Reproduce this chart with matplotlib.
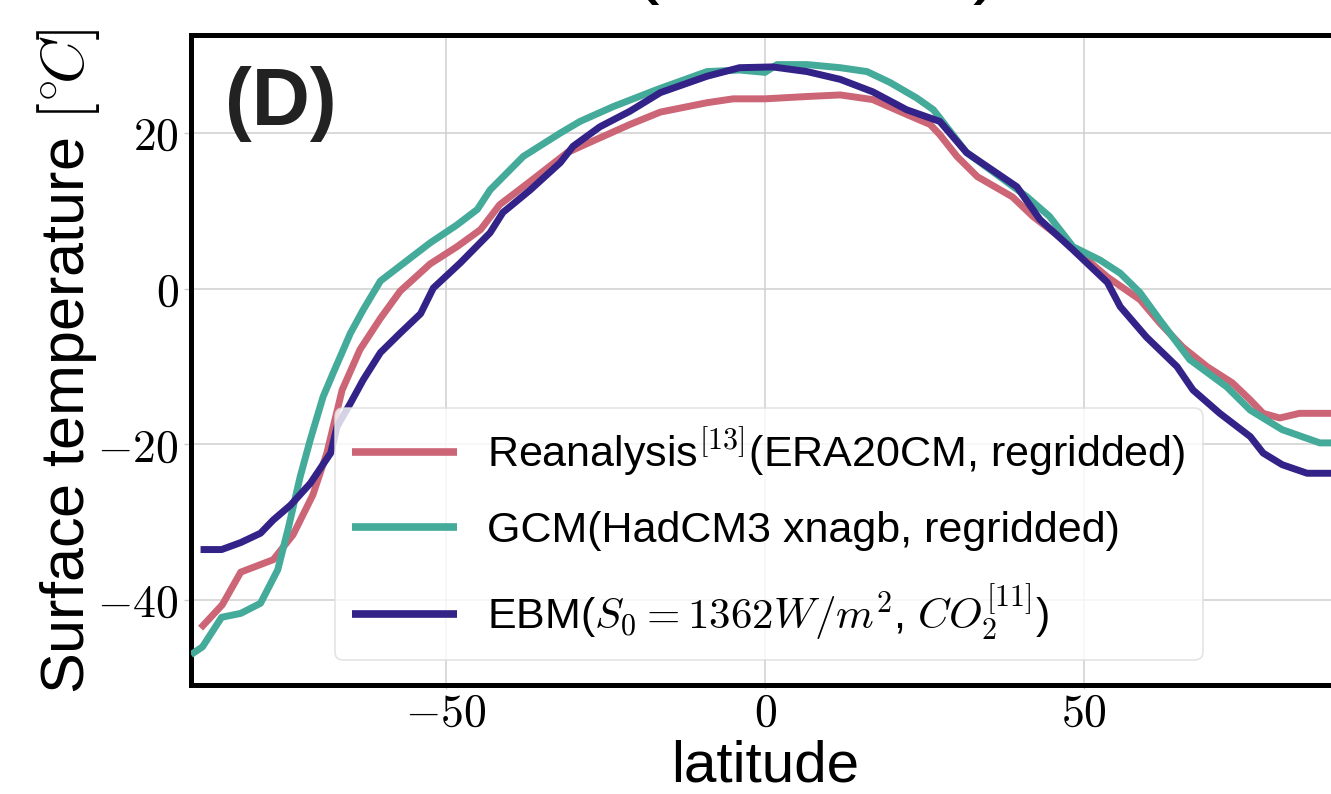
import matplotlib
matplotlib.use("Agg")
import matplotlib.pyplot as plt
from matplotlib.ticker import FixedLocator, FuncFormatter

plt.rcParams['font.family'] = ['Liberation Sans', 'DejaVu Sans']
plt.rcParams['mathtext.fontset'] = 'cm'

# ---------------- data ----------------
rea_lat = [-88.5, -85.1, -82.2, -77.1, -74.0, -70.9, -68.7, -66.3, -63.5, -60.3,
           -57.2, -52.5, -48.3, -44.6, -41.6, -36.8, -31.0, -26.4, -21.2, -16.4,
           -9.1, -5.0, 0.0, 6.6, 11.8, 16.9, 22.2, 25.9, 27.4, 30.1, 33.3, 38.8,
           42.0, 47.4, 53.7, 58.8, 61.9, 65.5, 69.3, 73.3, 76.1, 78.1, 80.7,
           83.8, 88.75]
rea_T = [-43.6, -40.6, -36.4, -34.8, -31.6, -26.5, -21.1, -13.0, -7.8, -3.8,
         -0.3, 3.2, 5.4, 7.6, 10.8, 13.8, 17.5, 19.2, 21.1, 22.7,
         23.9, 24.4, 24.4, 24.7, 24.9, 24.3, 22.4, 21.1, 19.8, 17.0, 14.4, 11.8,
         9.3, 5.9, 1.5, -1.4, -4.4, -7.5, -10.0, -12.1, -14.3, -16.0, -16.6,
         -16.0, -16.0]

gcm_lat = [-90.0, -88.2, -85.2, -82.2, -79.1, -76.4, -74.7, -72.9, -71.3, -69.3,
           -67.7, -65.0, -63.0, -60.3, -56.8, -52.5, -48.3, -45.1, -43.1, -37.9,
           -32.1, -29.0, -23.8, -16.9, -9.1, -4.0, 0.0, 1.9, 6.6, 11.8, 16.0,
           19.6, 23.8, 26.4, 31.6, 36.8, 41.1, 44.6, 48.3, 52.5, 55.7, 58.8,
           61.9, 66.6, 72.4, 76.1, 81.1, 87.0, 88.75]
gcm_T = [-47.0, -46.0, -42.2, -41.7, -40.4, -36.1, -30.6, -24.2, -19.4, -13.9,
         -10.8, -5.7, -2.7, 1.0, 3.2, 5.9, 8.2, 10.2, 12.7, 17.0,
         20.0, 21.5, 23.4, 25.6, 27.9, 28.1, 27.8, 28.8, 28.8, 28.4, 27.9,
         26.5, 24.5, 23.0, 17.5, 14.4, 11.8, 9.3, 5.4, 3.7, 2.0, -0.5,
         -4.0, -9.1, -12.6, -15.6, -18.1, -19.8, -19.8]

ebm_lat = [-88.5, -85.2, -82.2, -79.1, -77.1, -74.4, -71.3, -68.1, -67.1, -65.0,
           -63.0, -60.3, -57.2, -54.0, -52.0, -47.8, -43.1, -41.1, -36.8, -32.1,
           -30.1, -25.9, -21.2, -16.4, -9.1, -4.0, 1.2, 6.6, 11.8, 16.9, 22.2,
           27.4, 31.6, 39.5, 43.1, 48.3, 53.7, 55.7, 59.8, 64.6, 67.1, 71.3,
           76.1, 78.1, 81.1, 85.0, 88.75]
ebm_T = [-33.5, -33.5, -32.6, -31.4, -29.7, -27.8, -25.0, -21.1, -17.7, -14.7,
         -11.7, -8.2, -5.7, -3.2, 0.1, 3.3, 7.2, 9.8, 12.7, 16.2,
         18.3, 20.8, 22.8, 25.2, 27.3, 28.4, 28.5, 27.9, 26.9, 25.3, 23.0,
         21.5, 17.5, 13.1, 8.9, 5.0, 0.8, -2.3, -6.2, -10.0, -13.0, -16.0,
         -19.0, -21.1, -22.6, -23.7, -23.7]

labels = [r'Reanalysis$^{[13]}$(ERA20CM, regridded)',
          r'GCM(HadCM3 xnagb, regridded)',
          r'EBM($S_0=1362W/m^2$, $CO_2^{[11]}$)']
colors = ['#CC6677', '#44AA99', '#332288']
xticks = [-50, 0, 50]
yticks = [-40, -20, 0, 20]

# ---------------- figure ----------------
W, H = 1331, 794
fig = plt.figure(figsize=(W / 100, H / 100), dpi=100)
ax = fig.add_axes([191 / W, 1 - 685 / H, 1148 / W, 650 / H])

ax.grid(True, color='#cfcfcf', lw=1.1, zorder=0)
ax.set_axisbelow(True)

for lat, T, c, lab in zip([rea_lat, gcm_lat, ebm_lat], [rea_T, gcm_T, ebm_T],
                          colors, labels):
    ax.plot(lat, T, color=c, lw=5, label=lab, solid_capstyle='butt', zorder=3)

ax.set_xlim(-90, 90)
ax.set_ylim(-50.9, 32.6)
ax.xaxis.set_major_locator(FixedLocator(xticks))
ax.yaxis.set_major_locator(FixedLocator(yticks))
fmt = FuncFormatter(lambda v, p: r'$%g$' % v)
ax.xaxis.set_major_formatter(fmt)
ax.yaxis.set_major_formatter(fmt)
ax.tick_params(axis='y', labelsize=33, length=5, width=1, color='#cccccc',
               pad=4)
ax.tick_params(axis='x', labelsize=33, length=3, width=1, color='#cccccc',
               pad=2)

for s in ax.spines.values():
    s.set_color('black')
    s.set_linewidth(3.6)

leg = ax.legend(loc='lower left', bbox_to_anchor=(0.125, 0.038),
                borderaxespad=0, fontsize=31, handlelength=2.45,
                handletextpad=0.7, labelspacing=0.75, borderpad=0.4,
                framealpha=0.8, edgecolor='#dddddd', fancybox=True)
leg.get_frame().set_linewidth(1.2)
leg.set_zorder(5)
for h in leg.get_lines():
    h.set_linewidth(5.5)

ax.text(0.030, 0.862, '(D)', transform=ax.transAxes, fontsize=58,
        fontweight='bold', color='#222222', ha='left', va='baseline', zorder=6)

fig.text(69 / W, 0.545, r'Surface temperature $[{}^{\circ}\!C]$', rotation=90,
         ha='center', va='center', fontsize=44)
fig.text(765 / W, 0.5 / H, 'latitude', ha='center', va='bottom', fontsize=42)

# title of the panel, cut off by the top edge of the picture (as in the reference)
fig.text(632 / W, 1 + 12 / H, '(', ha='left', va='baseline', fontsize=60)
fig.text(1000 / W, 1 + 12 / H, ')', ha='right', va='baseline', fontsize=60)

fig.savefig('out.png', dpi=100)
